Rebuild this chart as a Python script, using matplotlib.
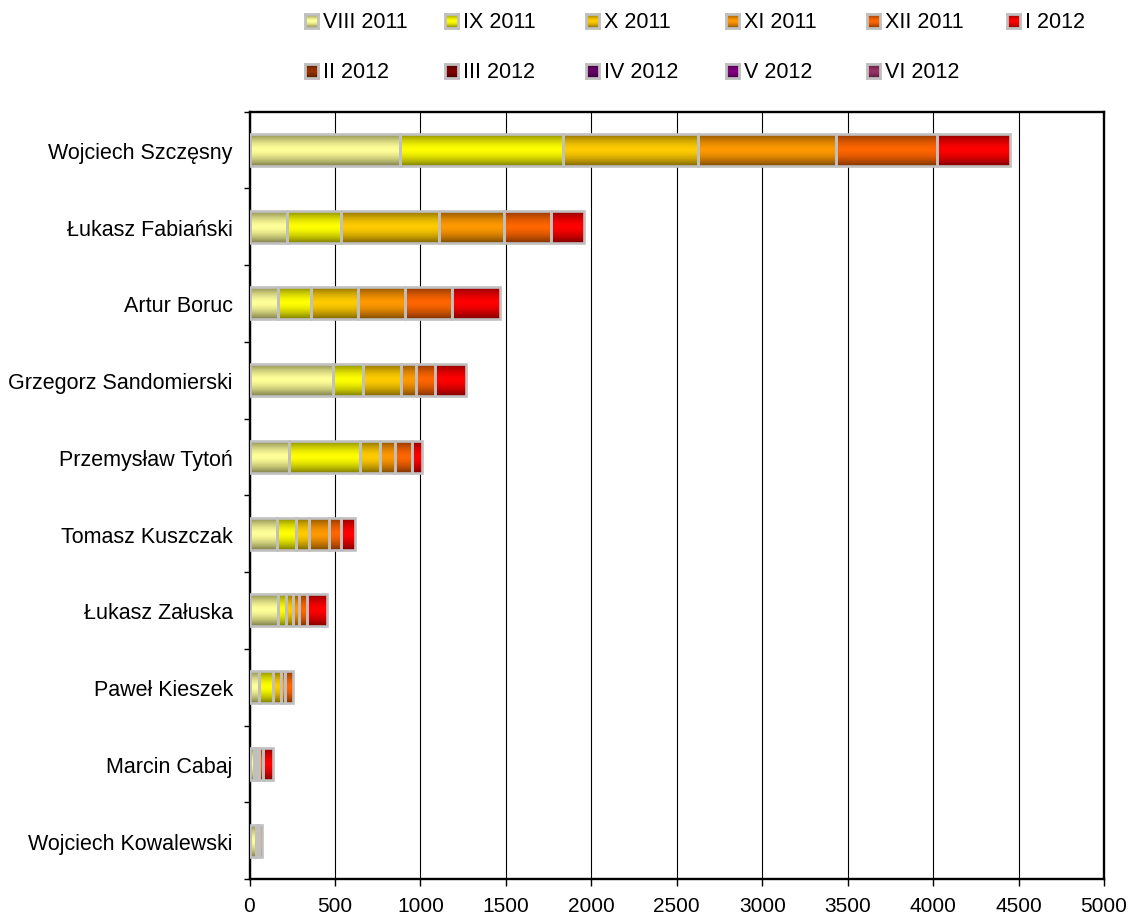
import numpy as np
import matplotlib
matplotlib.use("Agg")
import matplotlib.pyplot as plt
from matplotlib.colors import to_rgb

plt.rcParams['font.family'] = ['Liberation Sans', 'DejaVu Sans']

players = ['Wojciech Szczęsny', 'Łukasz Fabiański', 'Artur Boruc',
           'Grzegorz Sandomierski', 'Przemysław Tytoń', 'Tomasz Kuszczak',
           'Łukasz Załuska', 'Paweł Kieszek', 'Marcin Cabaj',
           'Wojciech Kowalewski']

months = ['VIII 2011', 'IX 2011', 'X 2011', 'XI 2011', 'XII 2011', 'I 2012',
          'II 2012', 'III 2012', 'IV 2012', 'V 2012', 'VI 2012']

# minutes per month, one value per player (same order as players)
viii_2011 = [880, 222, 166, 488, 230, 158, 169, 58, 25, 40]
ix_2011 = [955, 314, 191, 176, 418, 116, 45, 78, 16, 14]
x_2011 = [790, 573, 275, 221, 117, 74, 39, 47, 17, 0]
xi_2011 = [805, 383, 278, 87, 87, 119, 35, 26, 0, 0]
xii_2011 = [595, 275, 274, 114, 101, 66, 49, 43, 19, 18]
i_2012 = [425, 188, 284, 182, 59, 82, 114, 0, 58, 0]
ii_2012 = [0] * 10
iii_2012 = [0] * 10
iv_2012 = [0] * 10
v_2012 = [0] * 10
vi_2012 = [0] * 10

series = [viii_2011, ix_2011, x_2011, xi_2011, xii_2011, i_2012,
          ii_2012, iii_2012, iv_2012, v_2012, vi_2012]

colors = ['#FFFF99', '#FFFF00', '#FFCC00', '#FF9900', '#FF6600', '#FF0000',
          '#993300', '#800000', '#660066', '#800080', '#993366']

x_ticks = list(range(0, 5001, 500))

W, H = 1128, 920


def gradient(color, n=64):
    # dark at top and bottom, full colour in the middle (Excel style fill)
    c = np.array(to_rgb(color))
    t = np.linspace(-1, 1, n)
    f = 0.5 + 0.5 * (1 - np.abs(t) ** 1.6)
    return (f[:, None] * c[None, :])[:, None, :]


fig = plt.figure(figsize=(W / 100, H / 100), dpi=100)
ax = fig.add_axes([249.5 / W, 1 - 880 / H, (1104 - 249.5) / W, (880 - 112.5) / H])

y = np.arange(len(players))
bar_h = 0.42
left = np.zeros(len(players))

for vals, col in zip(series, colors):
    vals = np.array(vals, dtype=float)
    mask = vals > 0
    if mask.any():
        bars = ax.barh(y[mask], vals[mask], left=left[mask], height=bar_h,
                       color=col, linewidth=0, zorder=2)
        grad = gradient(col)
        for b in bars:
            x0, y0 = b.get_x(), b.get_y()
            im = ax.imshow(grad, extent=[x0, x0 + b.get_width(), y0 + b.get_height(), y0],
                           aspect='auto', interpolation='bilinear', zorder=2.5)
            im.set_clip_path(b)
        ax.barh(y[mask], vals[mask], left=left[mask], height=bar_h,
                fill=False, edgecolor='#C0C0C0', linewidth=1.9, zorder=3)
    left += vals

ax.set_xlim(0, 5000)
ax.set_ylim(len(players) - 0.5, -0.5)
ax.set_aspect('auto')

ax.set_xticks(x_ticks)
ax.set_xticklabels([str(v) for v in x_ticks], fontsize=15)
ax.tick_params(axis='x', direction='out', length=5, width=1, pad=7)

ax.set_yticks(y)
ax.set_yticklabels(players, fontsize=15.5)
ax.set_yticks(np.arange(-0.5, len(players)), minor=True)
ax.tick_params(axis='y', which='major', length=0, pad=12)
ax.tick_params(axis='y', which='minor', direction='out', length=4.5, width=1)

ax.xaxis.grid(True, color='black', linewidth=0.8)
ax.set_axisbelow(True)
for s in ax.spines.values():
    s.set_linewidth(1.7)
    s.set_color('black')

# legend laid out like the Excel one: 6 equal columns, 2 rows
for k, (lab, col) in enumerate(zip(months, colors)):
    row, c = divmod(k, 6)
    px = 305 + c * 140.4
    py = 22 if row == 0 else 72
    mk = fig.add_axes([px / W, 1 - (py + 7) / H, 13 / W, 14 / H])
    mk.imshow(gradient(col), aspect='auto', extent=[0, 1, 0, 1], interpolation='bilinear')
    mk.set_xticks([])
    mk.set_yticks([])
    for s in mk.spines.values():
        s.set_color('#C0C0C0')
        s.set_linewidth(2)
    fig.text((px + 18) / W, 1 - py / H, lab, fontsize=15.5, va='center', ha='left')

fig.savefig('out.png', dpi=100)
